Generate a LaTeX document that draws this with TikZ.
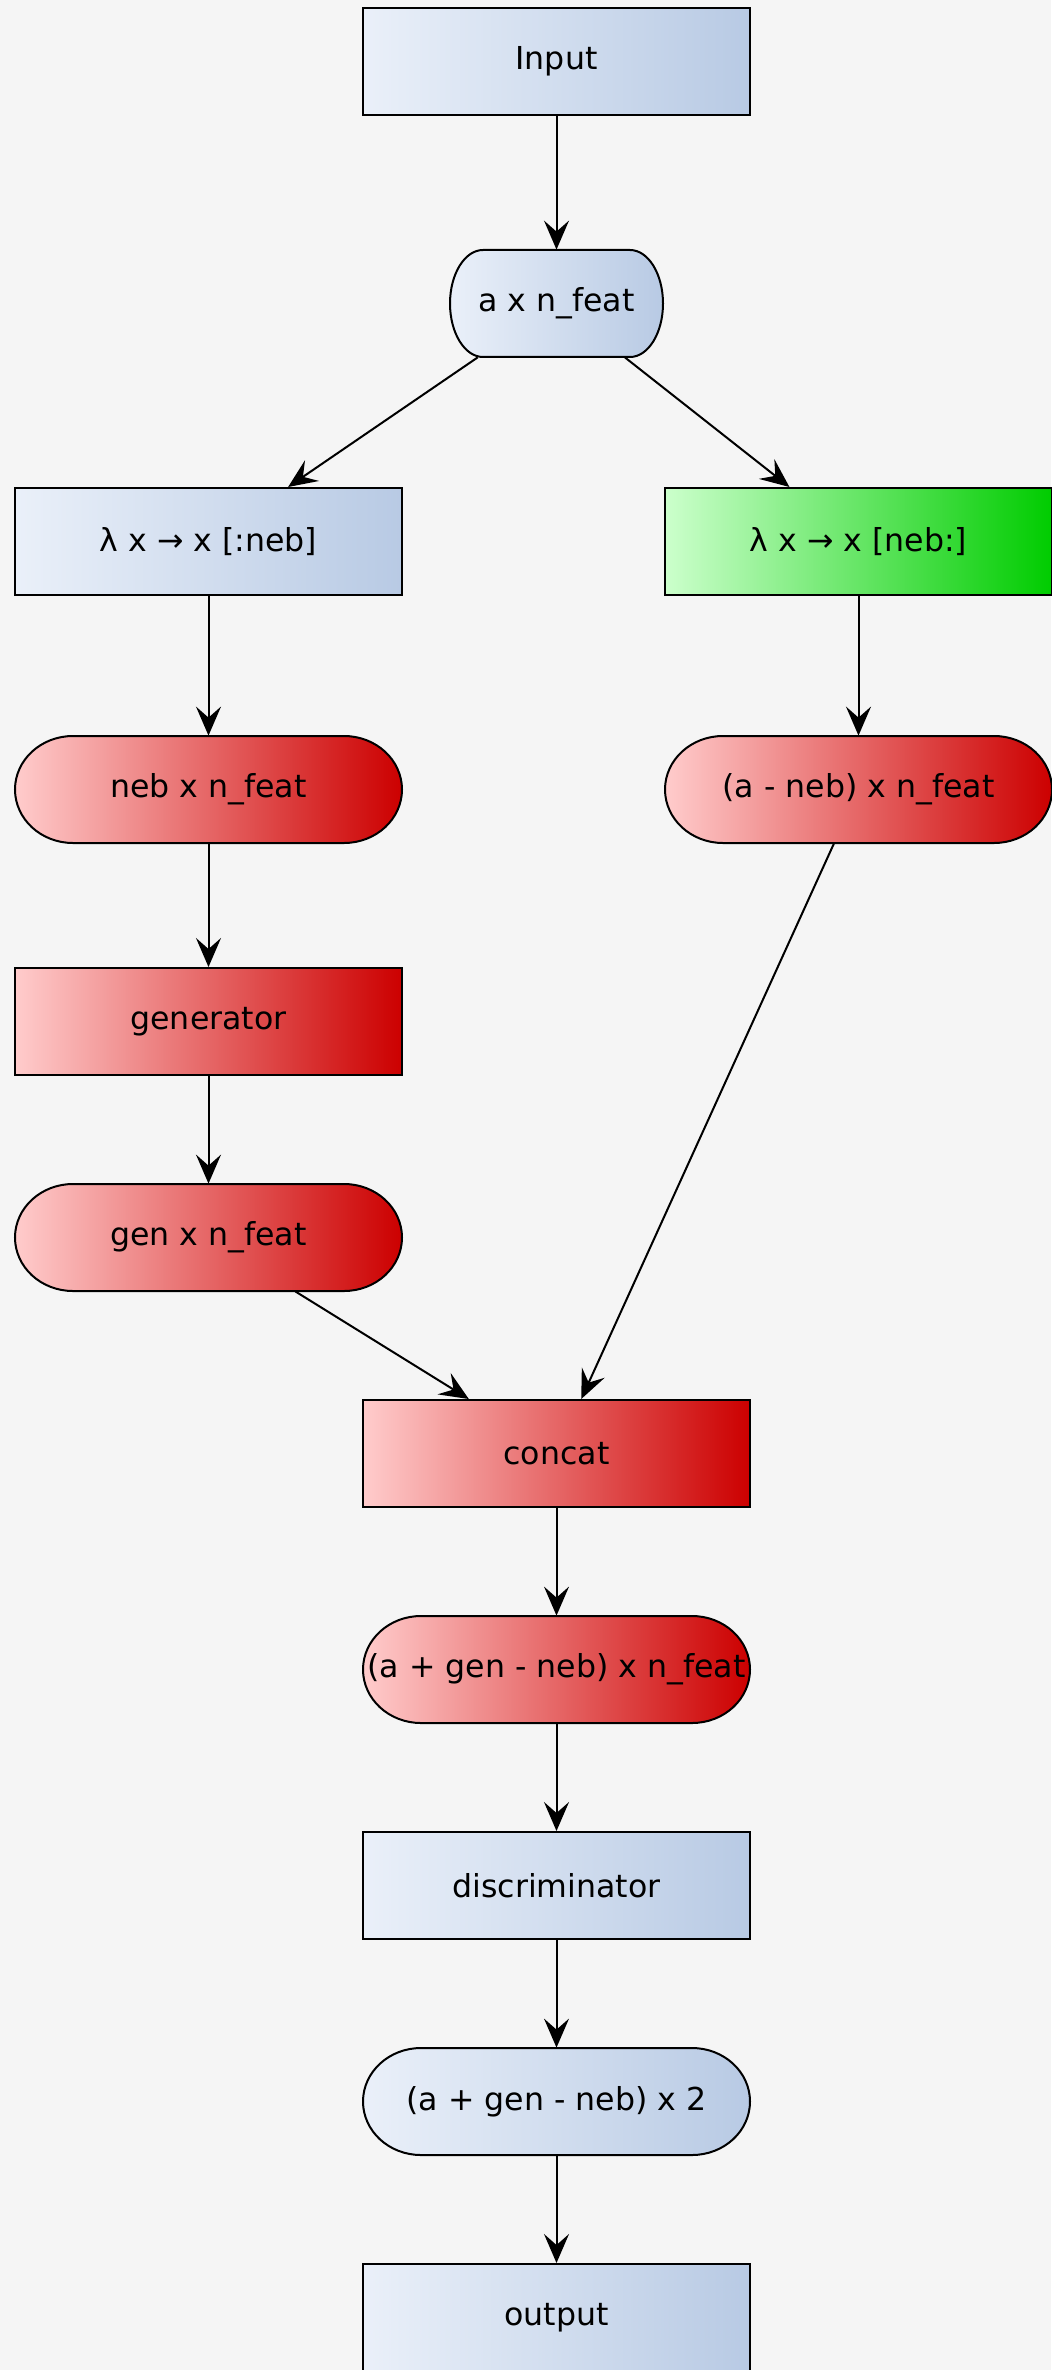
\documentclass[tikz,border=0pt]{standalone}
\usepackage{fontspec}
\setmainfont{DejaVu Sans}
\usetikzlibrary{arrows.meta,calc,backgrounds}
\definecolor{bgc}{HTML}{F5F5F5}
\definecolor{bluL}{HTML}{EAF0F9}
\definecolor{bluR}{HTML}{B8CAE4}
\definecolor{redL}{HTML}{FFCCCC}
\definecolor{redR}{HTML}{CC0000}
\definecolor{grnL}{HTML}{CCFFCC}
\definecolor{grnR}{HTML}{00CC00}
\tikzset{
  bluefill/.style={left color=bluL,right color=bluR},
  redfill/.style={left color=redL,right color=redR},
  greenfill/.style={left color=grnL,right color=grnR},
  lbl/.style={inner sep=0pt,minimum height=53.5pt,minimum width=193.5pt,
    font=\fontsize{15.8}{19}\selectfont,text=black},
  boxblue/.style={lbl,draw=black,line width=1pt,bluefill},
  boxred/.style={lbl,draw=black,line width=1pt,redfill},
  boxgreen/.style={lbl,draw=black,line width=1pt,greenfill},
  conn/.style={line width=1pt,-{Stealth[length=14.5pt,width=12.5pt,inset=5.5pt]}}
}
% stadium-like shape behind a node: #1 node, #2 half width, #3 corner x radius, #4 fill style
\newcommand\stadshape[4]{%
  \shade[#4,draw=black,line width=1pt] let \p0=(#1.center) in
    ({\x0-#2+#3},{\y0+26.75pt}) -- ({\x0+#2-#3},{\y0+26.75pt})
    arc[start angle=90,end angle=-90,x radius=#3,y radius=26.75pt]
    -- ({\x0-#2+#3},{\y0-26.75pt})
    arc[start angle=270,end angle=90,x radius=#3,y radius=26.75pt] -- cycle;}
\begin{document}
\begin{tikzpicture}[x=0.5pt,y=-0.5pt]
\path[use as bounding box] (0,0) rectangle (1051,2370);

\node[boxblue] (inp) at (556.5,61.5) {Input};
\node[lbl,minimum width=106.5pt] (axn) at (556.5,303.5) {a x n\_feat};
\node[boxblue] (lamL) at (208.5,541.5) {λ x → x [:neb]};
\node[boxgreen] (lamR) at (858.5,541.5) {λ x → x [neb:]};
\node[lbl] (neb) at (208.5,789.5) {neb x n\_feat};
\node[lbl] (aneb) at (858.5,789.5) {(a - neb) x n\_feat};
\node[boxred] (gener) at (208.5,1021.5) {generator};
\node[lbl] (gen) at (208.5,1237.5) {gen x n\_feat};
\node[boxred] (concat) at (556.5,1453.5) {concat};
\node[lbl] (apg) at (556.5,1669.5) {(a + gen - neb) x n\_feat};
\node[boxblue] (disc) at (556.5,1885.5) {discriminator};
\node[lbl] (apgtwo) at (556.5,2101.5) {(a + gen - neb) x 2};
\node[boxblue] (out) at (556.5,2317.5) {output};

\begin{scope}[on background layer]
  \fill[bgc] (0,0) rectangle (1051,2370);
  \stadshape{axn}{53.25pt}{16.5pt}{bluefill}
  \stadshape{neb}{96.75pt}{29pt}{redfill}
  \stadshape{aneb}{96.75pt}{29pt}{redfill}
  \stadshape{gen}{96.75pt}{29pt}{redfill}
  \stadshape{apg}{96.75pt}{29pt}{redfill}
  \stadshape{apgtwo}{96.75pt}{29pt}{bluefill}
\end{scope}

\draw[conn] (inp) -- (axn);
\draw[conn] (axn) -- (lamL);
\draw[conn] (axn) -- (lamR);
\draw[conn] (lamL) -- (neb);
\draw[conn] (lamR) -- (aneb);
\draw[conn] (neb) -- (gener);
\draw[conn] (gener) -- (gen);
\draw[conn] (gen) -- (concat);
\draw[conn] (aneb) -- (concat);
\draw[conn] (concat) -- (apg);
\draw[conn] (apg) -- (disc);
\draw[conn] (disc) -- (apgtwo);
\draw[conn] (apgtwo) -- (out);
\end{tikzpicture}
\end{document}
